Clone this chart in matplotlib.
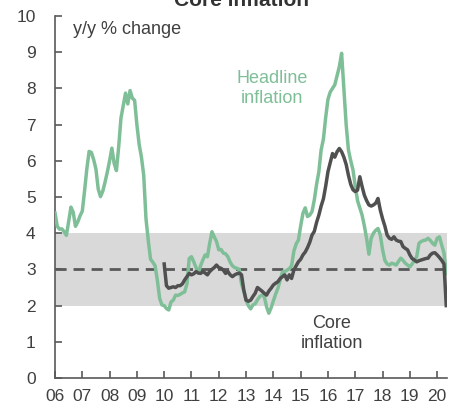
import numpy as np
import matplotlib
matplotlib.use("Agg")
import matplotlib.pyplot as plt

plt.rcParams['font.family'] = ['Liberation Sans', 'DejaVu Sans']

# Headline inflation, monthly y/y %, Jan 2006 - May 2020
headline = [
    4.56, 4.19, 4.11, 4.12, 4.04, 3.94, 4.32, 4.72, 4.58, 4.19, 4.31, 4.48,   # 2006
    4.61, 5.17, 5.78, 6.26, 6.23, 6.03, 5.77, 5.22, 5.01, 5.16, 5.41, 5.69,   # 2007
    6.00, 6.35, 5.93, 5.73, 6.39, 7.18, 7.52, 7.87, 7.57, 7.94, 7.73, 7.67,   # 2008
    7.00, 6.45, 6.10, 5.60, 4.40, 3.80, 3.28, 3.20, 3.10, 2.70, 2.20, 2.02,   # 2009
    2.00, 1.92, 1.88, 2.10, 2.15, 2.29, 2.28, 2.31, 2.35, 2.38, 2.60, 3.30,   # 2010
    3.35, 3.21, 3.05, 2.90, 3.10, 3.26, 3.40, 3.35, 3.72, 4.04, 3.90, 3.77,   # 2011
    3.54, 3.55, 3.45, 3.43, 3.35, 3.20, 3.10, 3.05, 3.03, 3.00, 2.60, 2.40,   # 2012
    2.15, 2.00, 1.91, 2.02, 2.05, 2.16, 2.25, 2.29, 2.25, 1.97, 1.79, 1.94,   # 2013
    2.13, 2.32, 2.48, 2.71, 2.93, 2.94, 2.98, 3.02, 3.10, 3.50, 3.70, 3.81,   # 2014
    4.20, 4.55, 4.70, 4.46, 4.50, 4.60, 4.92, 5.35, 5.70, 6.30, 6.60, 7.20,   # 2015
    7.70, 7.90, 8.00, 8.10, 8.35, 8.60, 8.97, 8.00, 7.00, 6.30, 6.00, 5.75,   # 2016
    5.30, 4.90, 4.70, 4.50, 4.20, 3.85, 3.42, 3.86, 4.00, 4.08, 4.13, 3.95,   # 2017
    3.55, 3.25, 3.15, 3.12, 3.17, 3.15, 3.12, 3.22, 3.31, 3.25, 3.17, 3.12,   # 2018
    3.07, 3.15, 3.25, 3.35, 3.72, 3.77, 3.80, 3.81, 3.86, 3.80, 3.72, 3.67,   # 2019
    3.86, 3.90, 3.67, 3.45, 2.88,                                             # 2020
]

# Core inflation, monthly y/y %, Jan 2010 - May 2020
core = [
    3.15, 2.55, 2.48, 2.50, 2.52, 2.50, 2.55, 2.55, 2.60, 2.71, 2.80, 2.89,   # 2010
    2.85, 2.88, 2.94, 2.90, 2.89, 2.94, 2.90, 2.85, 2.94, 3.00, 3.05, 3.12,   # 2011
    3.05, 3.03, 2.98, 2.89, 2.94, 2.85, 2.80, 2.85, 2.88, 2.90, 2.85, 2.43,   # 2012
    2.15, 2.12, 2.15, 2.25, 2.34, 2.50, 2.45, 2.40, 2.34, 2.29, 2.40, 2.48,   # 2013
    2.57, 2.62, 2.66, 2.75, 2.80, 2.85, 2.71, 2.85, 2.75, 2.98, 3.10, 3.21,   # 2014
    3.28, 3.40, 3.48, 3.60, 3.75, 3.95, 4.05, 4.30, 4.50, 4.75, 4.95, 5.30,   # 2015
    5.70, 5.95, 6.20, 6.10, 6.25, 6.34, 6.25, 6.10, 5.90, 5.60, 5.35, 5.20,   # 2016
    5.15, 5.19, 5.56, 5.29, 5.05, 4.90, 4.78, 4.75, 4.78, 4.83, 4.96, 4.64,   # 2017
    4.40, 4.20, 3.95, 3.86, 3.83, 3.90, 3.81, 3.78, 3.77, 3.63, 3.58, 3.54,   # 2018
    3.40, 3.30, 3.26, 3.21, 3.24, 3.26, 3.28, 3.30, 3.31, 3.40, 3.45, 3.46,   # 2019
    3.40, 3.33, 3.25, 3.15, 2.00,                                             # 2020
]

headline_start = 2006
core_start = 2010
target_low, target_mid, target_high = 2, 3, 4
year_ticks = list(range(2006, 2021))
year_labels = [f"{y % 100:02d}" for y in year_ticks]

t_head = headline_start + np.arange(len(headline)) / 12.0
t_core = core_start + np.arange(len(core)) / 12.0

green = '#7fbf98'
dark = '#505050'

fig = plt.figure(figsize=(4.55, 4.08), dpi=100)
ax = fig.add_axes([55/455, 30/408, 391.7/455, 362/408])

x0, x1 = 2006, 2020.35
ax.fill_between([x0, x1], target_low, target_high, color='#d9d9d9', lw=0, zorder=1)
ax.plot([x0, x1], [target_mid, target_mid], color='#595959', lw=2.0,
        dashes=(4, 2.5), zorder=2)
ax.plot(t_head, headline, color=green, lw=2.5, zorder=3, solid_joinstyle='round')
ax.plot(t_core, core, color=dark, lw=2.5, zorder=4, solid_joinstyle='round')

ax.set_xlim(x0, x1)
ax.set_ylim(0, 10)
ax.set_yticks(range(0, 11))
ax.set_xticks(year_ticks)
ax.set_xticklabels(year_labels)
for s in ['top', 'right']:
    ax.spines[s].set_visible(False)
for s in ['left', 'bottom']:
    ax.spines[s].set_color('#595959')
    ax.spines[s].set_linewidth(1.2)
ax.tick_params(axis='both', direction='in', length=5, width=1.2, color='#595959',
               labelsize=12.5, labelcolor='#404040')
ax.tick_params(axis='y', pad=14)
ax.tick_params(axis='x', pad=8)

ax.text(2006.65, 9.63, 'y/y % change', fontsize=13, color='#404040',
        va='center', ha='left')
ax.text(2013.96, 8.0, 'Headline\ninflation', fontsize=13, color=green,
        ha='center', va='center', linespacing=1.25)
ax.text(2016.15, 1.23, 'Core\ninflation', fontsize=13, color='#404040',
        ha='center', va='center', linespacing=1.25)

fig.text(242/455, 1 - 6/408, 'Core inflation', fontsize=15, fontweight='bold',
         color='#333333', ha='center', va='baseline')

fig.savefig('out.png', dpi=100)
